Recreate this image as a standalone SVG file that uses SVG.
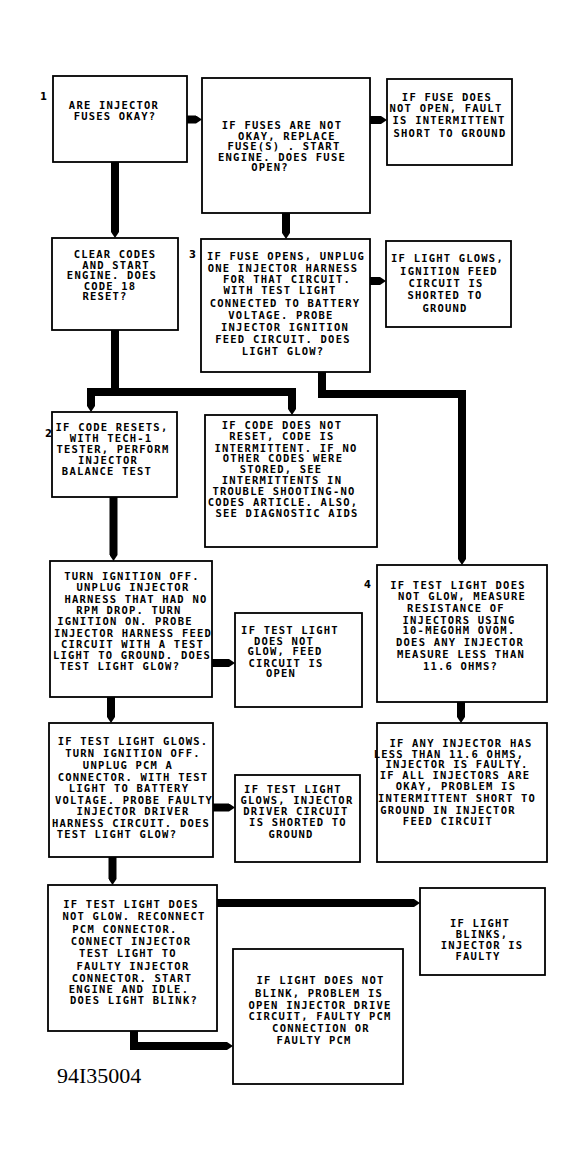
<svg xmlns="http://www.w3.org/2000/svg" width="585" height="1162" viewBox="0 0 585 1162">
<style>
.bg{fill:#fff}
.box{fill:#fff;stroke:#000;stroke-width:1.8}
.t{font-family:"DejaVu Sans Mono","Liberation Mono",monospace;font-size:10.5px;font-weight:bold;letter-spacing:1.2px;text-anchor:middle;fill:#000}
.num{font-family:"DejaVu Sans","Liberation Sans",sans-serif;font-size:10px;font-weight:bold;fill:#000}
.fig{font-family:"Liberation Serif","Times New Roman",serif;font-size:22px;fill:#000}
.ca{fill:none;stroke:#000;stroke-width:8;stroke-linejoin:miter;stroke-linecap:butt;marker-end:url(#ah)}
</style>
<defs>
<marker id="ah" viewBox="0 0 6 8" refX="0" refY="4" markerWidth="6" markerHeight="8" markerUnits="userSpaceOnUse" orient="auto">
<path d="M0,0 L6,4 L0,8 z" fill="#000"/>
</marker>
</defs>
<rect class="bg" x="0" y="0" width="585" height="1162"/>

<g id="connectors">
<path class="ca" d="M187,119.5 H196"/>
<path class="ca" d="M370,120 H381"/>
<path class="ca" d="M115,162 V232"/>
<path class="ca" d="M286,213 V233"/>
<path class="ca" d="M370,281 H380"/>
<path class="ca" d="M322,372 V394 H462 V559"/>
<path class="ca" d="M115,330 V392 H91 V406"/>
<path class="ca" d="M115,392 H292 V409"/>
<path class="ca" d="M113.5,497 V555"/>
<path class="ca" d="M212,663 H229"/>
<path class="ca" d="M111,697 V717"/>
<path class="ca" d="M461,702 V717"/>
<path class="ca" d="M213,807.5 H229"/>
<path class="ca" d="M112.5,857 V879"/>
<path class="ca" d="M217,903 H414"/>
<path class="ca" d="M134,1031 V1046 H227"/>
</g>

<g id="labels">
<text class="num" x="40" y="100">1</text>
<text class="num" x="45" y="437">2</text>
<text class="num" x="189" y="258">3</text>
<text class="num" x="364" y="588">4</text>
<text class="fig" x="57" y="1083">94I35004</text>
</g>

<g id="n1">
<rect class="box" x="53" y="76" width="134" height="86"/>
<text class="t"><tspan x="114" y="108.5">ARE INJECTOR</tspan><tspan x="115" y="119.5">FUSES OKAY?</tspan></text>
</g>

<g id="n2">
<rect class="box" x="202" y="78" width="168" height="135"/>
<text class="t"><tspan x="282" y="129">IF FUSES ARE NOT</tspan><tspan x="287" y="139.5">OKAY, REPLACE</tspan><tspan x="284" y="150">FUSE(S) . START</tspan><tspan x="282" y="160.5">ENGINE. DOES FUSE</tspan><tspan x="270" y="171">OPEN?</tspan></text>
</g>

<g id="n3">
<rect class="box" x="387" y="79" width="125" height="86"/>
<text class="t"><tspan x="447" y="100.5">IF FUSE DOES</tspan><tspan x="446" y="112">NOT OPEN, FAULT</tspan><tspan x="449" y="124">IS INTERMITTENT</tspan><tspan x="450" y="136.5">SHORT TO GROUND</tspan></text>
</g>

<g id="n4">
<rect class="box" x="52" y="238" width="126" height="92"/>
<text class="t"><tspan x="115" y="258">CLEAR CODES</tspan><tspan x="116" y="268.5">AND START</tspan><tspan x="112" y="279">ENGINE. DOES</tspan><tspan x="110" y="289.5">CODE 18</tspan><tspan x="105" y="300">RESET?</tspan></text>
</g>

<g id="n5">
<rect class="box" x="201" y="239" width="169" height="133"/>
<text class="t"><tspan x="286" y="260">IF FUSE OPENS, UNPLUG</tspan><tspan x="283" y="272">ONE INJECTOR HARNESS</tspan><tspan x="287" y="282.5">FOR THAT CIRCUIT.</tspan><tspan x="280" y="294">WITH TEST LIGHT</tspan><tspan x="285" y="306.5">CONNECTED TO BATTERY</tspan><tspan x="281" y="318.5">VOLTAGE. PROBE</tspan><tspan x="285" y="330.5">INJECTOR IGNITION</tspan><tspan x="283" y="343">FEED CIRCUIT. DOES</tspan><tspan x="283" y="354.5">LIGHT GLOW?</tspan></text>
</g>

<g id="n6">
<rect class="box" x="386" y="241" width="125" height="86"/>
<text class="t"><tspan x="447.5" y="262">IF LIGHT GLOWS,</tspan><tspan x="449" y="275">IGNITION FEED</tspan><tspan x="446" y="286.5">CIRCUIT IS</tspan><tspan x="445" y="299">SHORTED TO</tspan><tspan x="445" y="312">GROUND</tspan></text>
</g>

<g id="n7">
<rect class="box" x="52" y="412" width="125" height="85"/>
<text class="t"><tspan x="112" y="431">IF CODE RESETS,</tspan><tspan x="111" y="442">WITH TECH-1</tspan><tspan x="113" y="453">TESTER, PERFORM</tspan><tspan x="108" y="464">INJECTOR</tspan><tspan x="107" y="475">BALANCE TEST</tspan></text>
</g>

<g id="n8">
<rect class="box" x="205" y="415" width="172" height="132"/>
<text class="t"><tspan x="282" y="429">IF CODE DOES NOT</tspan><tspan x="282" y="440">RESET, CODE IS</tspan><tspan x="286" y="451.5">INTERMITTENT. IF NO</tspan><tspan x="283" y="462">OTHER CODES WERE</tspan><tspan x="281" y="472.5">STORED, SEE</tspan><tspan x="282" y="483.5">INTERMITTENTS IN</tspan><tspan x="284" y="494.5">TROUBLE SHOOTING-NO</tspan><tspan x="283" y="506">CODES ARTICLE. ALSO,</tspan><tspan x="287" y="517">SEE DIAGNOSTIC AIDS</tspan></text>
</g>

<g id="n9">
<rect class="box" x="50" y="561" width="162" height="136"/>
<text class="t"><tspan x="132" y="579.5">TURN IGNITION OFF.</tspan><tspan x="133" y="591">UNPLUG INJECTOR</tspan><tspan x="136" y="602.5">HARNESS THAT HAD NO</tspan><tspan x="129" y="613.5">RPM DROP. TURN</tspan><tspan x="125" y="625">IGNITION ON. PROBE</tspan><tspan x="133" y="637">INJECTOR HARNESS FEED</tspan><tspan x="132.5" y="647.5">CIRCUIT WITH A TEST</tspan><tspan x="132" y="658.5">LIGHT TO GROUND. DOES</tspan><tspan x="120" y="670">TEST LIGHT GLOW?</tspan></text>
</g>

<g id="n10">
<rect class="box" x="235" y="613" width="127" height="94"/>
<text class="t"><tspan x="290" y="633.5">IF TEST LIGHT</tspan><tspan x="284" y="644.5">DOES NOT</tspan><tspan x="285" y="655">GLOW, FEED</tspan><tspan x="286" y="666.5">CIRCUIT IS</tspan><tspan x="281" y="677">OPEN</tspan></text>
</g>

<g id="n11">
<rect class="box" x="377" y="565" width="170" height="137"/>
<text class="t"><tspan x="458" y="588.5">IF TEST LIGHT DOES</tspan><tspan x="462" y="600">NOT GLOW, MEASURE</tspan><tspan x="456" y="612">RESISTANCE OF</tspan><tspan x="459" y="623.5">INJECTORS USING</tspan><tspan x="459" y="634">10-MEGOHM OVOM.</tspan><tspan x="460" y="646">DOES ANY INJECTOR</tspan><tspan x="461" y="657.5">MEASURE LESS THAN</tspan><tspan x="460.5" y="670">11.6 OHMS?</tspan></text>
</g>

<g id="n12">
<rect class="box" x="49" y="723" width="164" height="134"/>
<text class="t"><tspan x="133" y="745">IF TEST LIGHT GLOWS.</tspan><tspan x="133" y="757">TURN IGNITION OFF.</tspan><tspan x="128" y="768.5">UNPLUG PCM A</tspan><tspan x="133" y="781">CONNECTOR. WITH TEST</tspan><tspan x="129" y="792">LIGHT TO BATTERY</tspan><tspan x="134" y="803.5">VOLTAGE. PROBE FAULTY</tspan><tspan x="133" y="815">INJECTOR DRIVER</tspan><tspan x="131" y="827">HARNESS CIRCUIT. DOES</tspan><tspan x="117" y="837.5">TEST LIGHT GLOW?</tspan></text>
</g>

<g id="n13">
<rect class="box" x="235" y="775" width="125" height="87"/>
<text class="t"><tspan x="293" y="793">IF TEST LIGHT</tspan><tspan x="297" y="803.5">GLOWS, INJECTOR</tspan><tspan x="296" y="815">DRIVER CIRCUIT</tspan><tspan x="298" y="826">IS SHORTED TO</tspan><tspan x="291" y="837.5">GROUND</tspan></text>
</g>

<g id="n14">
<rect class="box" x="377" y="723" width="170" height="139"/>
<text class="t"><tspan x="461" y="747">IF ANY INJECTOR HAS</tspan><tspan x="449" y="757.5">LESS THAN 11.6 OHMS,</tspan><tspan x="457" y="768">INJECTOR IS FAULTY.</tspan><tspan x="455" y="779">IF ALL INJECTORS ARE</tspan><tspan x="456" y="790">OKAY, PROBLEM IS</tspan><tspan x="457" y="802">INTERMITTENT SHORT TO</tspan><tspan x="448" y="813.5">GROUND IN INJECTOR</tspan><tspan x="448" y="824.5">FEED CIRCUIT</tspan></text>
</g>

<g id="n15">
<rect class="box" x="48" y="885" width="169" height="146"/>
<text class="t"><tspan x="131" y="908">IF TEST LIGHT DOES</tspan><tspan x="134" y="920">NOT GLOW. RECONNECT</tspan><tspan x="125" y="933">PCM CONNECTOR.</tspan><tspan x="131" y="945">CONNECT INJECTOR</tspan><tspan x="128" y="957">TEST LIGHT TO</tspan><tspan x="133" y="969.5">FAULTY INJECTOR</tspan><tspan x="132" y="982">CONNECTOR. START</tspan><tspan x="129" y="993">ENGINE AND IDLE.</tspan><tspan x="134" y="1004">DOES LIGHT BLINK?</tspan></text>
</g>

<g id="n16">
<rect class="box" x="420" y="888" width="125" height="87"/>
<text class="t"><tspan x="480" y="927">IF LIGHT</tspan><tspan x="482" y="938">BLINKS,</tspan><tspan x="482" y="949">INJECTOR IS</tspan><tspan x="478" y="960">FAULTY</tspan></text>
</g>

<g id="n17">
<rect class="box" x="233" y="949" width="170" height="135"/>
<text class="t"><tspan x="320.5" y="983.5">IF LIGHT DOES NOT</tspan><tspan x="319" y="997">BLINK, PROBLEM IS</tspan><tspan x="320" y="1008.5">OPEN INJECTOR DRIVE</tspan><tspan x="320" y="1020">CIRCUIT, FAULTY PCM</tspan><tspan x="321" y="1032">CONNECTION OR</tspan><tspan x="314" y="1043.5">FAULTY PCM</tspan></text>
</g>
</svg>
